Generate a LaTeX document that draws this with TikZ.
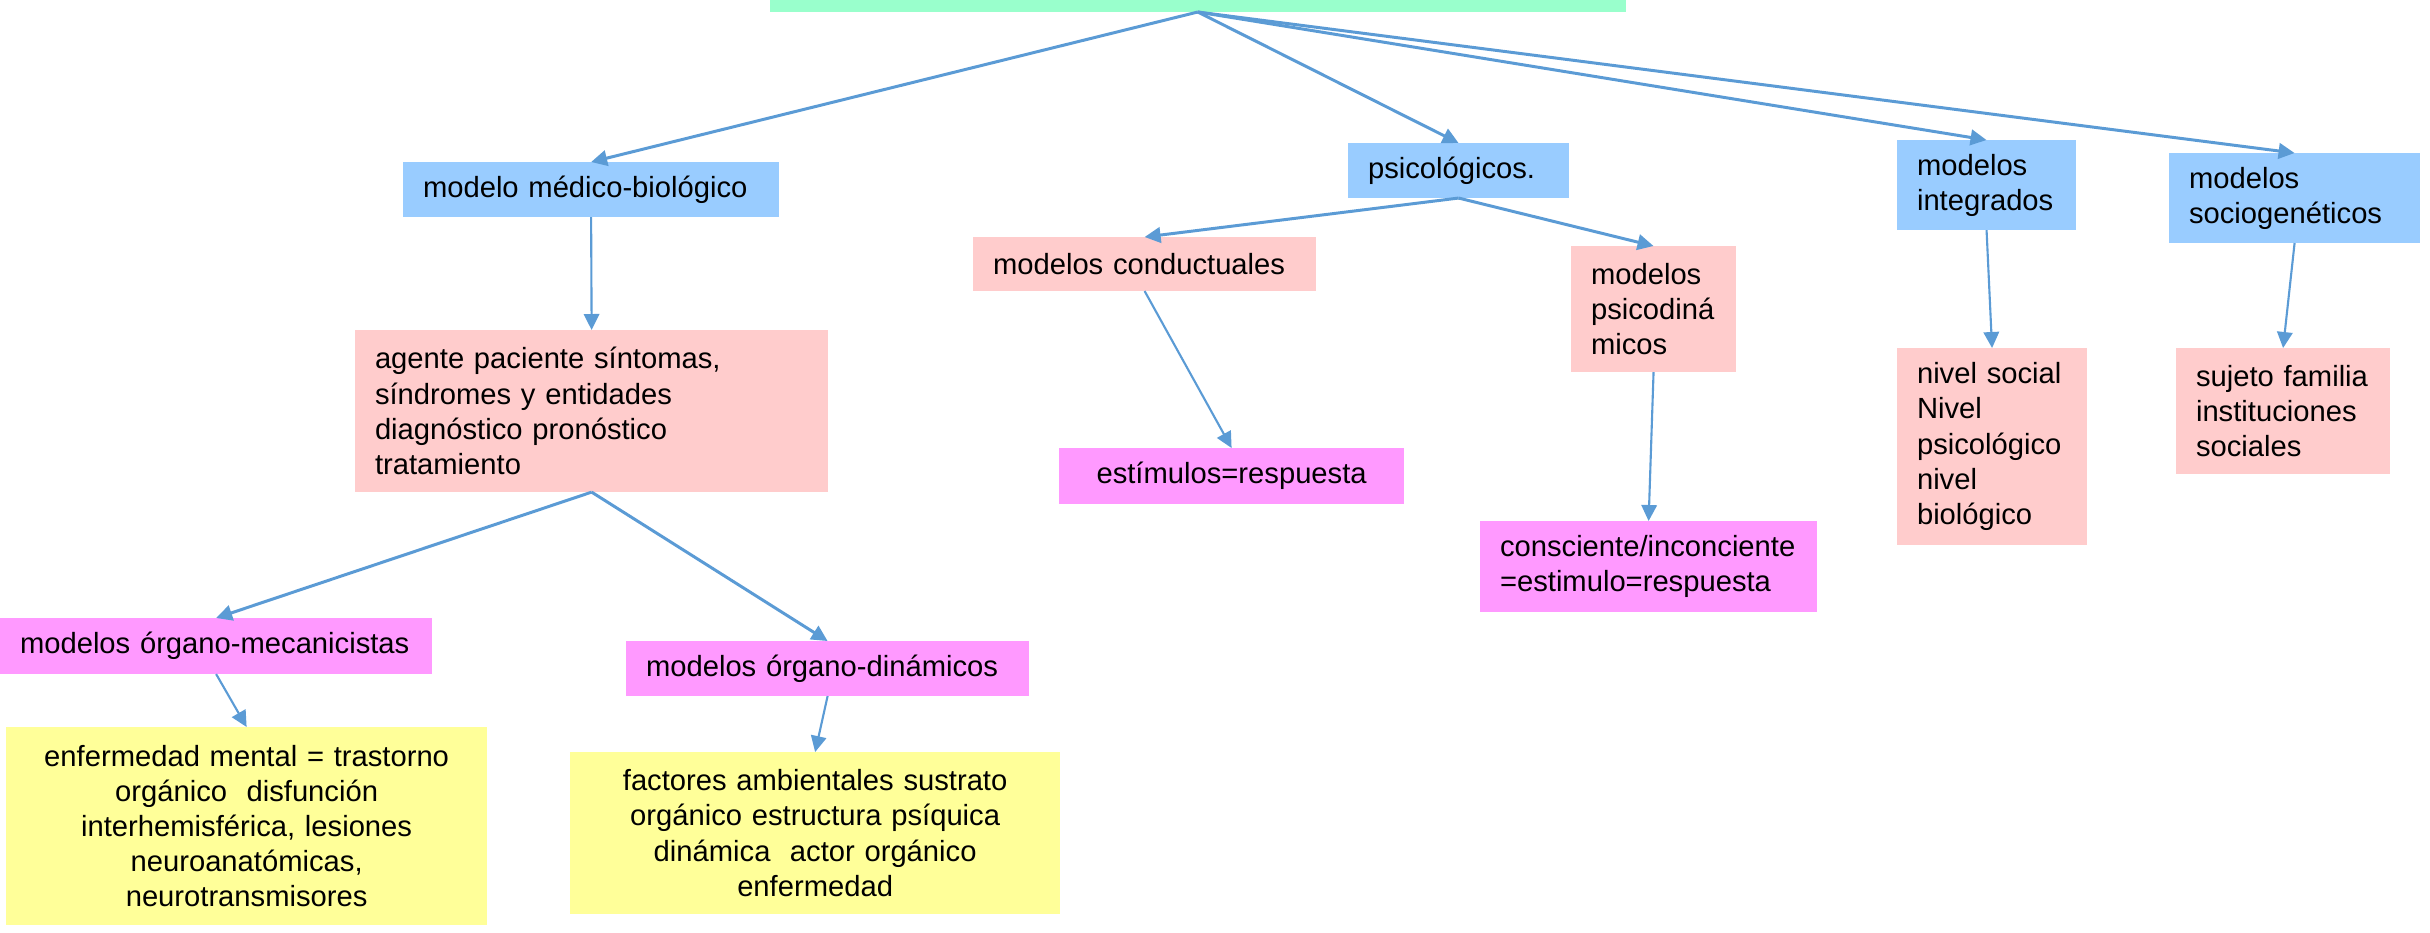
\documentclass[tikz,border=0pt]{standalone}
\usepackage{fontspec}
\setmainfont{Liberation Sans}
\usetikzlibrary{arrows.meta}
\definecolor{verde}{HTML}{99FFCC}
\definecolor{azul}{HTML}{99CCFF}
\definecolor{rosa}{HTML}{FFCCCC}
\definecolor{lila}{HTML}{FF99FF}
\definecolor{amarillo}{HTML}{FFFF99}
\definecolor{linea}{HTML}{5B9BD5}
\begin{document}
\begin{tikzpicture}[x=0.01cm, y=-0.01cm, font=\fontsize{8.3}{10}\selectfont, line join=round,
	caja/.style={anchor=north west, inner xsep=0.2cm, inner ysep=0pt, outer sep=0pt, align=left},
	flecha/.style={draw=linea, line width=0.85pt, -{Triangle[length=1.6mm,width=1.55mm]}},
	fina/.style={flecha, line width=0.6pt}]
	\useasboundingbox (0,0) rectangle (2430,932);
	\node[caja, fill=verde, minimum width=8.55cm, minimum height=0.12cm] (titulo) at (770,0) {};
	\node[caja, fill=azul, text width=3.36cm, minimum height=0.55cm] (medico) at (403,162) {modelo médico-biológico};
	\node[caja, fill=azul, text width=1.81cm, minimum height=0.55cm] (psico) at (1348,143) {psicológicos.};
	\node[caja, fill=azul, text width=1.39cm, minimum height=0.90cm] (integ) at (1897,140) {modelos\\integrados};
	\node[caja, fill=azul, text width=2.11cm, minimum height=0.90cm] (socio) at (2169,153) {modelos\\sociogenéticos};
	\node[caja, fill=rosa, text width=4.33cm, minimum height=1.62cm] (agente) at (355,330) {agente paciente síntomas,\\síndromes y entidades\\diagnóstico pronóstico\\tratamiento};
	\node[caja, fill=rosa, text width=3.03cm, minimum height=0.54cm] (conduct) at (973,237) {modelos conductuales};
	\node[caja, fill=rosa, text width=1.25cm, minimum height=1.26cm] (psicodin) at (1571,246) {modelos\\psicodiná\\micos};
	\node[caja, fill=rosa, text width=1.50cm, minimum height=1.97cm] (nivel) at (1897,348) {nivel social\\Nivel\\psicológico\\nivel\\biológico};
	\node[caja, fill=rosa, text width=1.74cm, minimum height=1.26cm] (sujeto) at (2176,348) {sujeto familia\\instituciones\\sociales};
	\node[caja, fill=lila, text width=3.05cm, minimum height=0.56cm, align=center] (estim) at (1059,448) {estímulos=respuesta};
	\node[caja, fill=lila, text width=2.97cm, minimum height=0.91cm] (consc) at (1480,521) {consciente/inconciente\\=estimulo=respuesta};
	\node[caja, fill=lila, text width=3.92cm, minimum height=0.56cm] (mecan) at (0,618) {modelos órgano-mecanicistas};
	\node[caja, fill=lila, text width=3.63cm, minimum height=0.55cm] (dinam) at (626,641) {modelos órgano-dinámicos};
	\node[caja, fill=amarillo, text width=4.41cm, minimum height=1.98cm, align=center] (enferm) at (6,727) {enfermedad mental = trastorno\\orgánico\ \ disfunción\\interhemisférica, lesiones\\neuroanatómicas,\\neurotransmisores};
	\node[caja, fill=amarillo, text width=4.50cm, minimum height=1.62cm, align=center] (factor) at (570,752) {factores ambientales sustrato\\orgánico estructura psíquica\\dinámica\ \ actor orgánico\\enfermedad};
	\draw[flecha] (titulo.south) -- (medico.north);
	\draw[flecha] (titulo.south) -- (psico.north);
	\draw[flecha] (titulo.south) -- (integ.north);
	\draw[flecha] (titulo.south) -- (socio.north);
	\draw[fina] (medico.south) -- (agente.north);
	\draw[flecha] (psico.south) -- (conduct.north);
	\draw[flecha] (psico.south) -- (psicodin.north);
	\draw[fina] (conduct.south) -- (estim.north);
	\draw[fina] (psicodin.south) -- (consc.north);
	\draw[fina] (integ.south) -- (nivel.north);
	\draw[fina] (socio.south) -- (sujeto.north);
	\draw[flecha] (agente.south) -- (mecan.north);
	\draw[flecha] (agente.south) -- (dinam.north);
	\draw[fina] (mecan.south) -- (enferm.north);
	\draw[fina] (dinam.south) -- (factor.north);
\end{tikzpicture}
\end{document}
